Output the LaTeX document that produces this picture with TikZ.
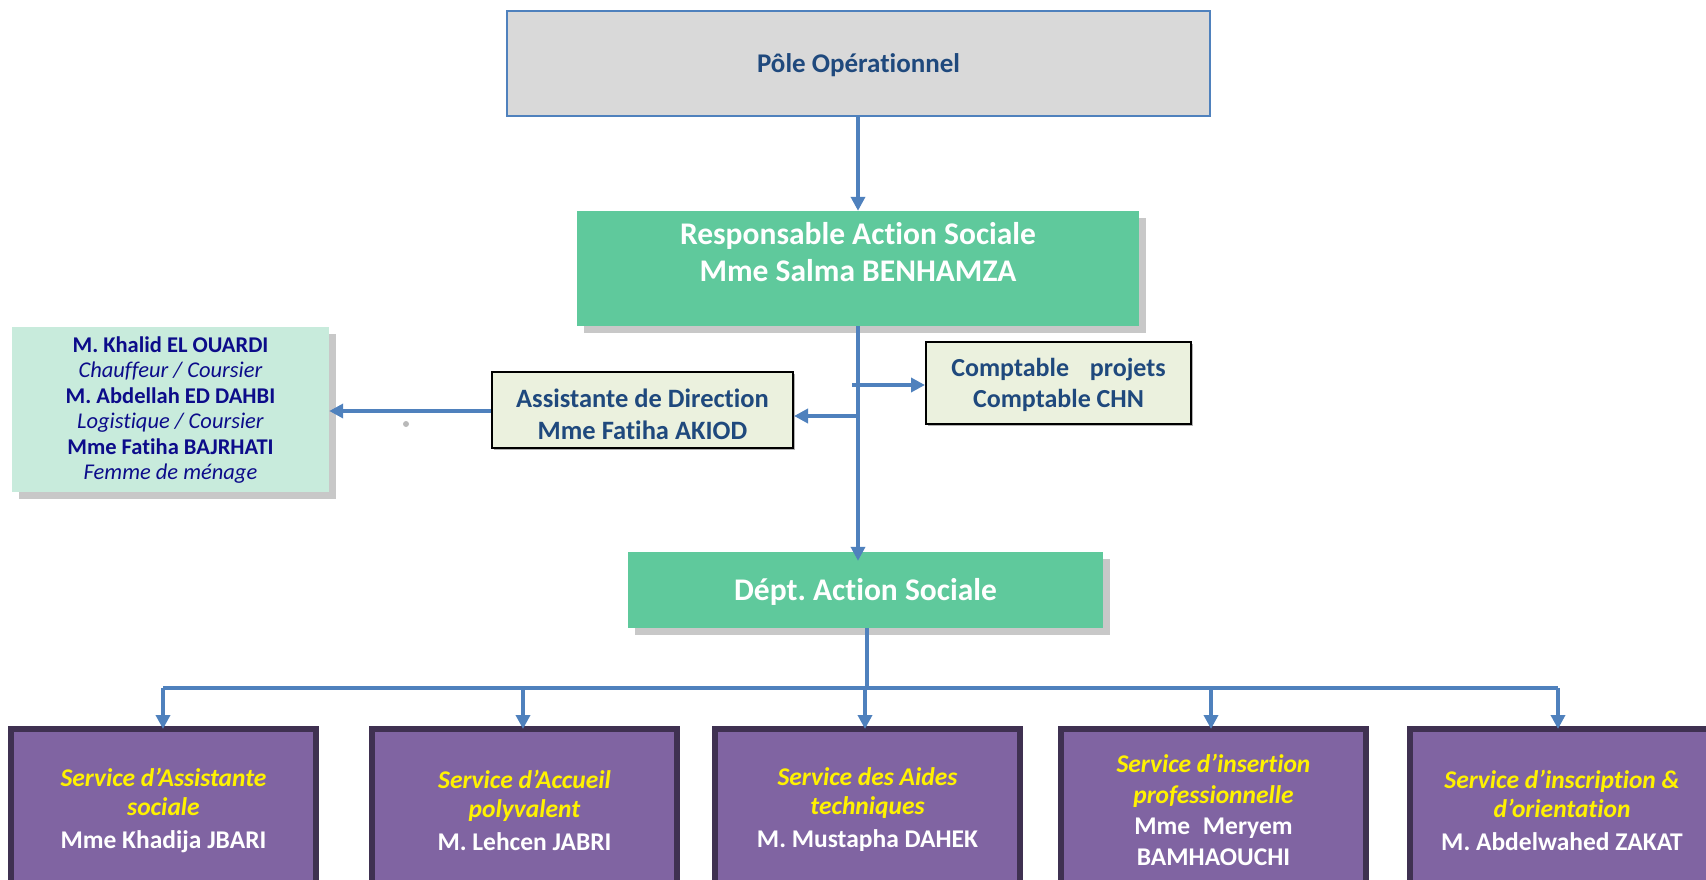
\documentclass[tikz,border=0pt]{standalone}
\usepackage{fontspec}
\setmainfont{Carlito}[Ligatures=CommonOff]
\usetikzlibrary{arrows.meta,shadows}
\definecolor{lineblue}{HTML}{4F81BD}
\definecolor{polefill}{HTML}{D9D9D9}
\definecolor{titleblue}{HTML}{1F497D}
\definecolor{green1}{HTML}{5FC99C}
\definecolor{mint}{HTML}{C8EBDC}
\definecolor{navy}{HTML}{0C0C8A}
\definecolor{paleolive}{HTML}{EBF1DE}
\definecolor{purplefill}{HTML}{8064A2}
\definecolor{purpleedge}{HTML}{3F3151}
\definecolor{shadowgray}{HTML}{C8C8C8}
\tikzset{
  conn/.style={draw=lineblue, line width=3.5pt},
  arr/.style={conn, -{Triangle[width=14pt,length=14pt]}},
  boxshadow/.style={general shadow={fill=shadowgray, shadow xshift=7pt, shadow yshift=-7pt}},
  polebox/.style={draw=lineblue, line width=2pt, fill=polefill, minimum width=703pt, minimum height=105pt, inner sep=0pt},
  greenbox/.style={fill=green1, boxshadow, inner sep=0pt},
  mintbox/.style={fill=mint, boxshadow, minimum width=317pt, minimum height=165pt, inner sep=0pt},
  olivebox/.style={draw=black, line width=2pt, fill=paleolive, general shadow={fill=gray!60, shadow xshift=2pt, shadow yshift=-2pt}, inner sep=0pt},
  servbox/.style={draw=purpleedge, line width=6pt, fill=purplefill, minimum width=305pt, minimum height=162pt, inner sep=0pt, align=center, font=\fontsize{25.5}{29}\selectfont\bfseries},
  txt/.style={inner sep=0pt, align=center},
}
\begin{document}
\frenchspacing
\begin{tikzpicture}[x=1pt,y=-1pt]
\useasboundingbox (0,0) rectangle (1706,880);
\begin{scope}
\clip (0,0) rectangle (1706,880);

% boxes
\node[polebox] (pole) at (858.5,63.5) {};
\node[txt, font=\fontsize{27}{32}\selectfont\bfseries, text=titleblue] (poletxt) at (858.5,65) {Pôle Opérationnel};

\node[greenbox, minimum width=562pt, minimum height=115pt] (resp) at (858,268.5) {};
\node[txt, font=\fontsize{31.5}{37}\selectfont\bfseries, text=white] (resptxt) at (858,252) {Responsable Action Sociale\\Mme Salma BENHAMZA};

\node[mintbox] (staff) at (170.5,409.5) {};
\node[txt, font=\fontsize{22.5}{25.4}\selectfont, text=navy] (stafftxt) at (170.5,410) {\textbf{M. Khalid EL OUARDI}\\\textit{Chauffeur / Coursier}\\\textbf{M. Abdellah ED DAHBI}\\\textit{Logistique / Coursier}\\\textbf{Mme Fatiha BAJRHATI}\\\textit{Femme de ménage}};

\node[olivebox, minimum width=301pt, minimum height=76pt] (assist) at (642.5,410) {};
\node[txt, font=\fontsize{26.5}{32}\selectfont\bfseries, text=titleblue] (assisttxt) at (642.5,414) {Assistante de Direction\\Mme Fatiha AKIOD};

\node[olivebox, minimum width=265pt, minimum height=82pt] (compt) at (1058.5,383) {};
\node[txt, font=\fontsize{26}{31}\selectfont\bfseries, text=titleblue] (compttxt) at (1058.5,385) {Comptable\hspace{0.8em}projets\\Comptable CHN};

\node[greenbox, minimum width=475pt, minimum height=76pt] (dept) at (865.5,590) {};
\node[txt, font=\fontsize{31.5}{36}\selectfont\bfseries, text=white] (depttxt) at (865.5,592) {Dépt. Action Sociale};

% small grey speck
\fill[gray!55] (406,424) circle (3pt);

% services
\newcommand{\svT}[1]{\textcolor{yellow}{\itshape #1}}
\newcommand{\svN}[1]{\textcolor{white}{#1}}
\node[servbox] (s1) at (163.5,810) {\svT{Service d’Assistante}\\\svT{sociale}\\[4pt]\svN{Mme Khadija JBARI}};
\node[servbox] (s2) at (524.5,810) {\svT{Service d’Accueil}\\\svT{polyvalent}\\[4pt]\svN{M. Lehcen JABRI}};
\node[servbox] (s3) at (867.5,810) {\svT{Service des Aides}\\\svT{techniques}\\[4pt]\svN{M. Mustapha DAHEK}};
\node[servbox] (s4) at (1213.5,810) {\svT{Service d’insertion}\\[2pt]\svT{professionnelle}\\[2pt]\svN{Mme\hspace{0.5em}Meryem}\\[2pt]\svN{BAMHAOUCHI}};
\node[servbox] (s5) at (1562,810) {\svT{Service d’inscription \&}\\\svT{d’orientation}\\[4pt]\svN{M. Abdelwahed ZAKAT}};

% connectors
\draw[arr] (pole.south -| resp.north) -- (resp.north);
\coordinate (jA) at (858,416);
\coordinate (jC) at (852,385);
\draw[arr] (resp.south -| jA) -- ([yshift=-9pt]dept.north -| jA);
\draw[arr] (jA) -- (jA -| assist.east);
\draw[arr] (jC) -- (jC -| compt.west);
\coordinate (jS) at (492,411);
\draw[arr] (assist.west |- jS) -- (staff.east |- jS);

\coordinate (bus) at (867,688);
\draw[conn] (dept.south -| bus) -- (bus);
\draw[conn] (163,688) -- (1558,688);
\foreach \n/\x in {s1/163,s2/523,s3/865,s4/1211,s5/1558}{
  \draw[arr] (\x,688) -- (\x,729);
}
\end{scope}
\end{tikzpicture}
\end{document}
